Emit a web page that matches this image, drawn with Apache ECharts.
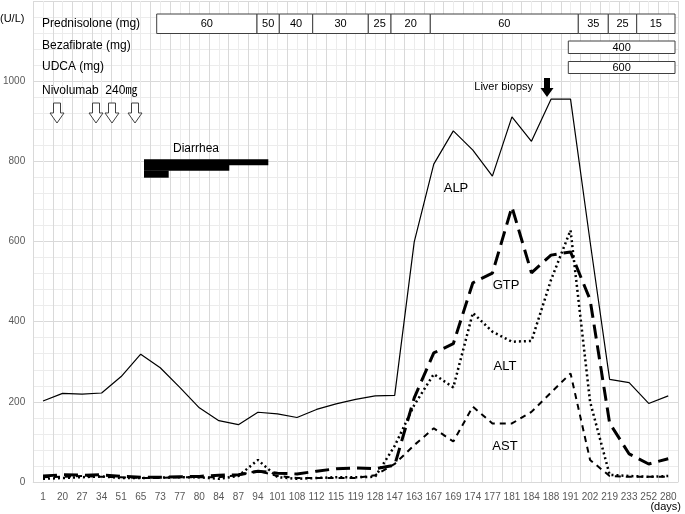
<!DOCTYPE html>
<html>
<head>
<meta charset="utf-8">
<script src="https://cdn.jsdelivr.net/npm/echarts@6/dist/echarts.min.js"></script>
<style>
html,body{margin:0;padding:0;background:#fff;}
#chart{width:685px;height:514px;}
</style>
</head>
<body>
<div id="chart"></div>
<script>
// days of the blood tests
const days = ['1','20','27','34','51','65','73','77','80','84','87','94','101','108','112','115','119','128','147','163','167','169','174','177','181','184','188','191','202','219','233','252','280'];

// U/L values
const alp = [202,221,219,222,263,319,285,236,185,153,143,174,170,161,181,195,206,215,216,599,793,876,828,763,911,850,955,955,600,256,248,196,215];
const gtp = [15,18,17,18,14,12,12,13,14,17,18,27,22,20,27,33,35,33,42,210,322,345,497,521,686,522,566,574,455,147,70,45,58];
const alt = [8,10,12,14,10,10,11,12,12,8,15,55,12,8,10,12,12,13,90,192,269,236,422,375,350,352,504,628,200,18,15,13,15];
const ast = [12,13,15,13,12,10,10,12,12,12,17,28,15,10,10,10,10,17,45,92,134,101,188,146,146,175,223,271,55,15,13,13,13];

// drug doses (mg) for the boxes at the top
const prednisolone = ['60','50','40','30','25','20','60','35','25','15'];
const bezafibrate = '400';
const udca = '600';

// box layout (px), annotation only
const predEdges = [156.7,257,279.3,312.7,368.3,391,430.3,578.3,608.3,636.7,675];
const nivoX = [57,96,112,135];

const FONT = '"Liberation Sans", "Noto Sans CJK JP"';
const chart = echarts.init(document.getElementById('chart'));

function txt(x, y, s, size, align){
  return {type:'text', x:x, y:y, silent:true, z:10,
    style:{text:s, fill:'#000', font:(size||12)+'px '+FONT, align:align||'left', verticalAlign:'middle'}};
}
function box(x1, y1, x2, y2){
  return {type:'rect', silent:true, z:9, shape:{x:x1, y:y1, width:x2-x1, height:y2-y1},
    style:{fill:'#fff', stroke:'#404040', lineWidth:1}};
}

let g = [];
// left labels
g.push(txt(0, 19, '(U/L)', 11));
g.push(txt(42, 24, 'Prednisolone (mg)', 12));
g.push(txt(42, 46, 'Bezafibrate (mg)', 12));
g.push(txt(42, 67, 'UDCA (mg)', 12));
g.push(txt(42, 91, 'Nivolumab  240㎎', 12));

// prednisolone boxes
for (let i = 0; i < prednisolone.length; i++) {
  g.push(box(predEdges[i], 14, predEdges[i+1], 33.5));
  g.push(txt((predEdges[i]+predEdges[i+1])/2, 24, prednisolone[i], 11, 'center'));
}
g.push(box(568.3, 41, 675, 53.5));
g.push(txt(621.6, 47.5, bezafibrate, 11, 'center'));
g.push(box(568.3, 61.5, 675, 73.5));
g.push(txt(621.6, 67.5, udca, 11, 'center'));

// nivolumab arrows
nivoX.forEach(function(cx){
  g.push({type:'polygon', silent:true, z:9,
    shape:{points:[[cx-3.5,103],[cx+3.5,103],[cx+3.5,113],[cx+7,113],[cx,123],[cx-7,113],[cx-3.5,113]]},
    style:{fill:'#fff', stroke:'#404040', lineWidth:1}});
});

// liver biopsy
g.push(txt(533, 87, 'Liver biopsy', 11, 'right'));
g.push({type:'polygon', silent:true, z:9,
  shape:{points:[[544,78],[550,78],[550,88],[553.5,88],[547,97],[540.5,88],[544,88]]},
  style:{fill:'#000'}});

// diarrhea
g.push(txt(196, 149, 'Diarrhea', 12, 'center'));
g.push({type:'rect', silent:true, z:9, shape:{x:144, y:159.3, width:124.3, height:5.9}, style:{fill:'#000'}});
g.push({type:'rect', silent:true, z:9, shape:{x:144, y:165, width:85.3, height:5.8}, style:{fill:'#000'}});
g.push({type:'rect', silent:true, z:9, shape:{x:144, y:170.5, width:24.7, height:7.2}, style:{fill:'#000'}});

// series labels
g.push(txt(456, 188, 'ALP', 13, 'center'));
g.push(txt(506, 285, 'GTP', 13, 'center'));
g.push(txt(505, 366, 'ALT', 13, 'center'));
g.push(txt(505, 446, 'AST', 13, 'center'));
g.push(txt(681, 507, '(days)', 11, 'right'));

function line(name, data, width, type){
  return {name:name, type:'line', data:data, symbol:'none', xAxisIndex:0,
    lineStyle:{color:'#000', width:width, type:type, cap:'butt'}, z:5};
}

const option = {
  animation:false,
  backgroundColor:'#fff',
  grid:{left:25.5, right:7, top:1, bottom:32},
  xAxis:[
    {type:'category', data:days, boundaryGap:true,
     axisLine:{show:true, lineStyle:{color:'#d9d9d9'}}, axisTick:{show:false},
     axisLabel:{interval:0, fontSize:10, color:'#595959', margin:10, fontFamily:'Liberation Sans'},
     splitLine:{show:false}},
    {type:'value', min:-0.5, max:32.5, interval:0.5, position:'top',
     axisLine:{show:false}, axisTick:{show:false}, axisLabel:{show:false},
     splitLine:{show:true, lineStyle:{color:['#d9d9d9','#ececec'], width:1}}}
  ],
  yAxis:{type:'value', min:0, max:1200, interval:40,
    axisLine:{show:false}, axisTick:{show:false},
    axisLabel:{fontSize:10, color:'#595959', margin:8, fontFamily:'Liberation Sans',
      formatter:function(v){ return (v % 200 === 0 && v <= 1000) ? String(v) : ''; }},
    splitLine:{show:true, lineStyle:{color:['#d9d9d9','#ececec','#ececec','#ececec','#ececec'], width:1}}},
  series:[
    line('ALP', alp, 1.2, 'solid'),
    line('GTP', gtp, 3, [14,7]),
    line('ALT', alt, 2.5, [2,3]),
    line('AST', ast, 2, [6,5])
  ],
  graphic:{elements:g}
};
chart.setOption(option);
</script>
</body>
</html>
